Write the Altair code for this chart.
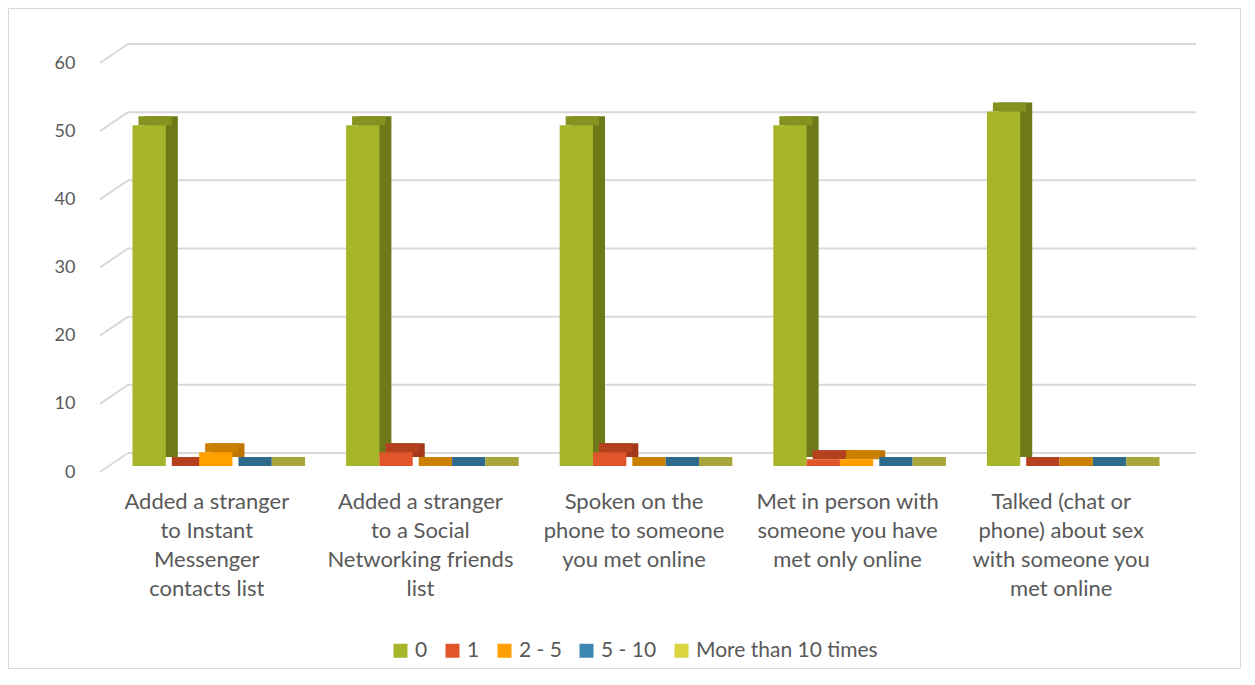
import altair as alt
import pandas as pd

categories = [
    "Added a stranger\nto Instant\nMessenger\ncontacts list",
    "Added a stranger\nto a Social\nNetworking friends\nlist",
    "Spoken on the\nphone to someone\nyou met online",
    "Met in person with\nsomeone you have\nmet only online",
    "Talked (chat or\nphone) about sex\nwith someone you\nmet online",
]
series = ["0", "1", "2 - 5", "5 - 10", "More than 10 times"]
v_0 = [50, 50, 50, 50, 52]
v_1 = [0, 2, 2, 1, 0]
v_2_5 = [2, 0, 0, 1, 0]
v_5_10 = [0, 0, 0, 0, 0]
v_10p = [0, 0, 0, 0, 0]
y_ticks = [0, 10, 20, 30, 40, 50, 60]

front_colors = ["#A7B52A", "#E1552A", "#FF9F00", "#3C87B0", "#D9D43F"]
top_colors = ["#85921F", "#B5411E", "#CC8000", "#2D6A8C", "#A8A63A"]
side_colors = ["#6E791A", "#A3391A", "#BF7600", "#255F80", "#8F8C28"]

rows = []
for s, vals in zip(series, [v_0, v_1, v_2_5, v_5_10, v_10p]):
    for c, v in zip(categories, vals):
        rows.append({"category": c, "series": s, "value": v})
df = pd.DataFrame(rows)
grid_df = pd.DataFrame({"v": y_ticks})

W, H = 1068, 409
PAD_IN, PAD_OUT = 0.22, 0.11
BW = (1 - PAD_IN) * W / (len(categories) - PAD_IN + 2 * PAD_OUT)
FONT = "Lato"
GREY = "#595959"

y_axis = alt.Axis(title=None, domain=False, ticks=False, tickSize=0, grid=False,
                  values=y_ticks, labelFontSize=18, labelPadding=34, labelOffset=6,
                  labelFont=FONT, labelColor=GREY)
y_scale = alt.Scale(domain=[0, 60], nice=False)

x_enc = alt.X("category:N", sort=categories,
              scale=alt.Scale(paddingInner=PAD_IN, paddingOuter=PAD_OUT),
              axis=alt.Axis(title=None, domain=False, ticks=False, tickSize=0,
                            labelAngle=0, labelFontSize=22, labelLineHeight=29,
                            labelPadding=25, labelOffset=-9, labelLimit=400,
                            labelFont=FONT, labelColor=GREY,
                            labelExpr="split(datum.label, '\\n')"))


def xo(shift):
    return alt.XOffset("series:N", sort=series,
                       scale=alt.Scale(domain=series, range=[shift, BW + shift],
                                       paddingInner=0, paddingOuter=0))


base = alt.Chart(df).encode(
    x=x_enc,
    y=alt.Y("value:Q", scale=y_scale, axis=y_axis, stack=None),
)

side = base.mark_bar(yOffset=-9, y2Offset=-9).encode(
    xOffset=xo(12),
    y2=alt.datum(0),
    color=alt.Color("series:N", sort=series,
                    scale=alt.Scale(domain=series, range=side_colors), legend=None),
)
top = base.mark_bar(yOffset=-9).encode(
    xOffset=xo(6),
    y2=alt.Y2("value:Q"),
    color=alt.Color("series:N", sort=series,
                    scale=alt.Scale(domain=series, range=top_colors), legend=None),
)
front = base.mark_bar().encode(
    xOffset=xo(0),
    y2=alt.datum(0),
    color=alt.Color("series:N", sort=series,
                    scale=alt.Scale(domain=series, range=front_colors),
                    legend=alt.Legend(title=None, orient="none", legendX=281, legendY=583,
                                      direction="horizontal", symbolType="square",
                                      symbolSize=196, symbolStrokeWidth=0,
                                      labelFontSize=21, labelFont=FONT, labelColor=GREY,
                                      labelLimit=400, columnPadding=14, labelOffset=4)),
)

back_grid = alt.Chart(grid_df).mark_rule(
    color="#d9d9d9", strokeWidth=2, xOffset=19, x2Offset=19, yOffset=-13
).encode(
    y=alt.Y("v:Q", scale=y_scale, axis=y_axis),
    x=alt.value(0), x2=alt.value(W),
)
stub_grid = alt.Chart(grid_df).mark_rule(
    color="#d9d9d9", strokeWidth=2, yOffset=6, y2Offset=-13
).encode(
    y=alt.Y("v:Q", scale=y_scale, axis=y_axis),
    y2=alt.Y2("v:Q"),
    x=alt.value(-9), x2=alt.value(19),
)
border = alt.Chart(alt.Data(values=[{}])).mark_rect(
    fillOpacity=0, stroke="#d9d9d9", strokeWidth=1
).encode(
    x=alt.value(-100.5), x2=alt.value(1131.5), y=alt.value(-48.5), y2=alt.value(611.5)
)

chart = alt.layer(border, back_grid, stub_grid, side, top, front).properties(
    width=W, height=H,
    padding={"left": 101, "top": 49, "right": 68, "bottom": 206},
    autosize=alt.AutoSizeParams(type="none"),
).resolve_scale(color="independent", xOffset="independent").configure_view(stroke=None)

chart.save("out.html", embed_options={"renderer": "svg", "actions": False})
